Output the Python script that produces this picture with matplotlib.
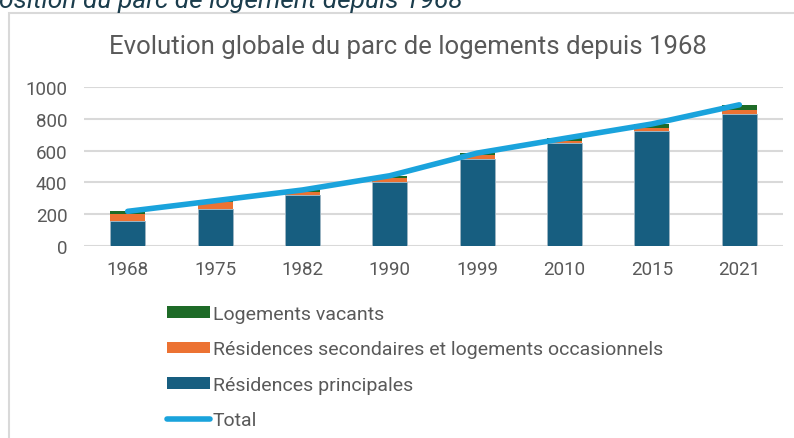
import matplotlib.pyplot as plt
from matplotlib.patches import Rectangle, Patch
from matplotlib.lines import Line2D

plt.rcParams['font.family'] = ['Roboto', 'DejaVu Sans']

annees = ['1968', '1975', '1982', '1990', '1999', '2010', '2015', '2021']
principales = [154, 234, 320, 400, 548, 651, 726, 834]
secondaires = [46, 44, 21, 27, 25, 10, 19, 23]
vacants = [17, 6, 11, 15, 12, 17, 24, 33]
total = [p + s + v for p, s, v in zip(principales, secondaires, vacants)]

c_princ = '#175e80'
c_sec = '#ec7232'
c_vac = '#1e6b27'
c_tot = '#1aa3dc'
gris = '#595959'

fig = plt.figure(figsize=(7.94, 4.39), dpi=100)

# cadre du graphique (coupé à droite et en bas)
fig.patches.append(Rectangle((9 / 794, -0.1), 1.2, 1 - 14 / 439 + 0.1,
                             transform=fig.transFigure, fill=False,
                             edgecolor='#d9d9d9', linewidth=1.5))

# légende de la figure, tronquée en haut
fig.text(463 / 794, 1 - 8 / 439, 'Composition du parc de logement depuis 1968',
         ha='right', va='baseline', fontsize=19, fontstyle='italic',
         color='#1b3d4d')

ax = fig.add_axes([84 / 794, (439 - 246.7) / 439, 699 / 794, 158.3 / 439])
x = range(len(annees))
ax.bar(x, principales, width=0.4, color=c_princ, edgecolor='#9fb6c3', linewidth=0.6, zorder=2)
ax.bar(x, secondaires, width=0.4, bottom=principales, color=c_sec, zorder=2)
bas_vac = [p + s for p, s in zip(principales, secondaires)]
ax.bar(x, vacants, width=0.4, bottom=bas_vac, color=c_vac, zorder=2)
ax.plot(x, total, color=c_tot, linewidth=4, solid_capstyle='round', zorder=3)

ax.set_xlim(-0.5, len(annees) - 0.5)
ax.set_ylim(0, 1000)
ax.set_yticks(range(0, 1001, 200))
ax.set_xticks(list(x))
ax.set_xticklabels(annees)
ax.yaxis.grid(True, color='#d9d9d9', linewidth=1.5, zorder=0)
ax.set_axisbelow(True)
for s in ax.spines.values():
    s.set_visible(False)
ax.tick_params(length=0, labelsize=13.5, labelcolor=gris)
ax.tick_params(axis='x', pad=10)
ax.tick_params(axis='y', pad=12)

fig.text(408 / 794, 1 - 47 / 439, 'Evolution globale du parc de logements depuis 1968',
         ha='center', va='center', fontsize=18.5, color=gris)

handles = [
    Patch(facecolor=c_vac),
    Patch(facecolor=c_sec),
    Patch(facecolor=c_princ),
    Line2D([], [], color=c_tot, linewidth=4, solid_capstyle='round'),
]
labels = ['Logements vacants',
          'Résidences secondaires et logements occasionnels',
          'Résidences principales',
          'Total']
leg = fig.legend(handles, labels, loc='upper left',
                 bbox_to_anchor=(167 / 794, 1 - 306 / 439), frameon=False,
                 fontsize=14, labelcolor=gris, handlelength=2.2,
                 handleheight=0.55, handletextpad=0.15, labelspacing=0.9,
                 borderpad=0, borderaxespad=0)

fig.savefig('out.png', dpi=100)
